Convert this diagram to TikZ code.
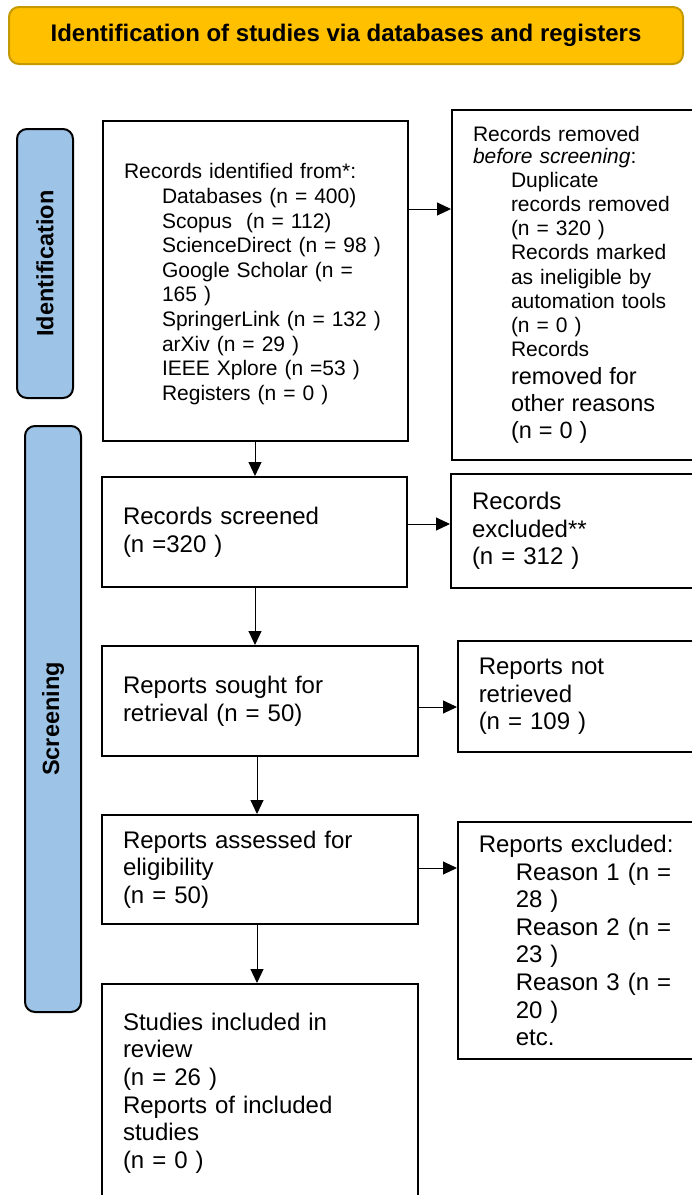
\documentclass[tikz,border=0pt]{standalone}
\usepackage{fontspec}
\usepackage{graphicx}
\setmainfont{Liberation Sans}
\usetikzlibrary{arrows.meta}
\definecolor{hdrfill}{HTML}{FFC000}
\definecolor{hdrdraw}{HTML}{C49A00}
\definecolor{sidefill}{HTML}{9DC3E6}
\begin{document}
\begin{tikzpicture}[x=1pt,y=-1pt,
  box/.style={draw=black, line width=2pt, anchor=north west, inner xsep=21pt, inner ysep=0pt, align=left},
  fa/.style={font=\fontsize{21}{24.6}\selectfont},
  fb/.style={font=\fontsize{24}{27.6}\selectfont},
  side/.style={draw=black, line width=2pt, fill=sidefill, rounded corners=10pt, anchor=north west, inner sep=0pt, font=\bfseries\fontsize{23.5}{27}\selectfont},
  arr/.style={-{Triangle[length=14pt,width=13pt]}, line width=1pt}]
\useasboundingbox (0,0) rectangle (692,1195);
\clip (0,0) rectangle (692,1195);

\node[draw=hdrdraw, fill=hdrfill, line width=2pt, rounded corners=10pt, minimum width=674pt, minimum height=57pt, anchor=north west, inner sep=0pt, font=\bfseries\fontsize{24}{28}\selectfont] (hdr) at (8,6) {Identification of studies via databases and registers};

\node[side, minimum width=56pt, minimum height=269pt] (sideid) at (16,128) {\rotatebox{90}{Identification}};
\node[side, minimum width=56pt, minimum height=586pt] (sidescr) at (24,425) {\rotatebox{90}{Screening}};

\node[box, fa, text width=263pt, minimum height=320pt] (ident) at (102,120) {\rule{0pt}{21.5pt}Records identified from*:\\
\hspace*{38pt}Databases (n = 400)\\
\hspace*{38pt}Scopus\ \ (n = 112)\\
\hspace*{38pt}ScienceDirect (n = 98 )\\
\hspace*{38pt}Google Scholar (n =\\
\hspace*{38pt}165 )\\
\hspace*{38pt}SpringerLink (n = 132 )\\
\hspace*{38pt}arXiv (n = 29 )\\
\hspace*{38pt}IEEE Xplore (n =53 )\\
\hspace*{38pt}Registers (n = 0 )};

\node[box, font=\fontsize{21}{24.2}\selectfont, text width=230pt, minimum height=350pt] (removed) at (451,109) {Records removed\\[-3pt]
\textit{before screening}:\\
\hspace*{38pt}Duplicate\\
\hspace*{38pt}records removed\\
\hspace*{38pt}(n = 320 )\\
\hspace*{38pt}Records marked\\
\hspace*{38pt}as ineligible by\\
\hspace*{38pt}automation tools\\
\hspace*{38pt}(n = 0 )\\
\hspace*{38pt}Records\\[3.5pt]
\hspace*{38pt}{\fontsize{23.5}{27}\selectfont removed for}\\[2.8pt]
\hspace*{38pt}{\fontsize{23.5}{27}\selectfont other reasons}\\[2.8pt]
\hspace*{38pt}{\fontsize{23.5}{27}\selectfont (n = 0 )}};

\node[box, fb, text width=263pt, minimum height=110pt] (screened) at (101,476) {Records screened\\(n =320 )};
\node[box, fb, text width=230pt, minimum height=114pt] (excluded) at (450,473) {Records\\excluded**\\(n = 312 )};

\node[box, fb, text width=274pt, minimum height=110pt] (sought) at (101,645) {Reports sought for\\retrieval (n = 50)};
\node[box, fb, inner xsep=20.75pt, text width=194pt, minimum height=111pt] (notret) at (457,640) {Reports not\\retrieved\\(n = 109 )};

\node[box, fb, text width=274pt, minimum height=109pt] (assessed) at (101,814) {Reports assessed for\\eligibility\\(n = 50)};
\node[box, fb, inner xsep=20.75pt, text width=194pt, minimum height=237pt] (repexcl) at (457,821) {\mbox{Reports excluded:}\\
\hspace*{37pt}Reason 1 (n =\\
\hspace*{37pt}28 )\\
\hspace*{37pt}Reason 2 (n =\\
\hspace*{37pt}23 )\\
\hspace*{37pt}Reason 3 (n =\\
\hspace*{37pt}20 )\\
\hspace*{37pt}etc.};

\node[box, fb, text width=274pt, minimum height=218pt] (studies) at (101,983) {Studies included in\\review\\(n = 26 )\\Reports of included\\studies\\(n = 0 )};

\coordinate (ya) at (0,209);
\coordinate (yb) at (0,524);
\coordinate (yc) at (0,707);
\coordinate (yd) at (0,868);
\coordinate (xa) at (255,0);
\coordinate (xb) at (257,0);

\draw[arr] (ident.east |- ya) -- (removed.west |- ya);
\draw[arr] (screened.east |- yb) -- (excluded.west |- yb);
\draw[arr] (sought.east |- yc) -- (notret.west |- yc);
\draw[arr] (assessed.east |- yd) -- (repexcl.west |- yd);

\draw[arr] (ident.south -| xa) -- (screened.north -| xa);
\draw[arr] (screened.south -| xa) -- (sought.north -| xa);
\draw[arr] (sought.south -| xb) -- (assessed.north -| xb);
\draw[arr] (assessed.south -| xb) -- (studies.north -| xb);
\end{tikzpicture}
\end{document}
